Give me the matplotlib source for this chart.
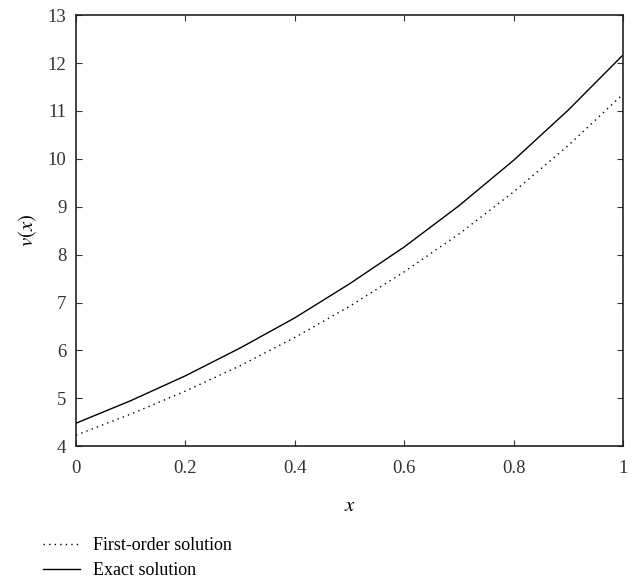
import matplotlib.pyplot as plt

plt.rcParams['font.family'] = ['Liberation Serif', 'DejaVu Serif']
plt.rcParams['mathtext.fontset'] = 'stix'

x = [0.0, 0.1, 0.2, 0.3, 0.4, 0.5, 0.6, 0.7, 0.8, 0.9, 1.0]
first_order = [4.23, 4.67, 5.15, 5.68, 6.27, 6.92, 7.64, 8.43, 9.31, 10.28, 11.35]
exact = [4.48, 4.95, 5.47, 6.05, 6.68, 7.39, 8.16, 9.02, 9.97, 11.02, 12.17]

xticks = [0, 0.2, 0.4, 0.6, 0.8, 1]
xticklabels = ['0', '0.2', '0.4', '0.6', '0.8', '1']
yticks = list(range(4, 14))

fig = plt.figure(figsize=(6.39, 5.84), dpi=100)
ax = fig.add_axes([0.119, 0.236, 0.856, 0.738])

l1, = ax.plot(x, first_order, color='black', lw=1.0, linestyle=(0, (1, 3)),
              label='First-order solution')
l2, = ax.plot(x, exact, color='black', lw=1.0, label='Exact solution')

ax.set_xlim(0, 1)
ax.set_ylim(4, 13)
ax.set_xticks(xticks)
ax.set_xticklabels(xticklabels)
ax.set_yticks(yticks)
ax.tick_params(direction='in', top=True, right=True, length=4, width=0.8,
               labelsize=13.5, colors='#333333', pad=7)
ax.tick_params(axis='x', pad=10)
for s in ax.spines.values():
    s.set_linewidth(1.2)
    s.set_color('#222222')

ax.set_xlabel('$x$', fontsize=15, labelpad=14)
ax.set_ylabel('$v(x)$', fontsize=15, labelpad=6)

fig.legend(handles=[l1, l2], loc='upper left', bbox_to_anchor=(0.068, 0.080),
           frameon=False, fontsize=13, handlelength=2.0, handletextpad=0.75,
           labelspacing=0.45, borderpad=0, borderaxespad=0)

fig.savefig('out.png', dpi=100)
